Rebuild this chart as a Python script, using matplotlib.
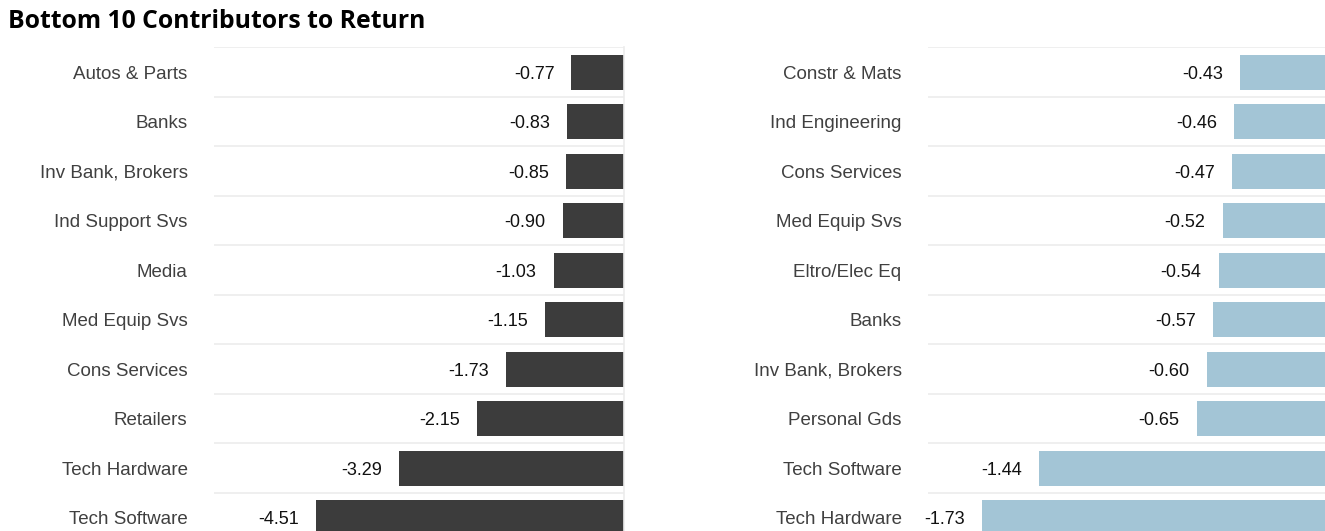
import matplotlib
matplotlib.use("Agg")
import matplotlib.pyplot as plt

left_categories = ["Autos & Parts", "Banks", "Inv Bank, Brokers", "Ind Support Svs", "Media",
                   "Med Equip Svs", "Cons Services", "Retailers", "Tech Hardware", "Tech Software"]
left_values = [-0.77, -0.83, -0.85, -0.90, -1.03, -1.15, -1.73, -2.15, -3.29, -4.51]

right_categories = ["Constr & Mats", "Ind Engineering", "Cons Services", "Med Equip Svs", "Eltro/Elec Eq",
                    "Banks", "Inv Bank, Brokers", "Personal Gds", "Tech Software", "Tech Hardware"]
right_values = [-0.43, -0.46, -0.47, -0.52, -0.54, -0.57, -0.60, -0.65, -1.44, -1.73]

title = "Bottom 10 Contributors to Return"

W, H = 1325, 531
plt.rcParams['font.family'] = ['Liberation Sans', 'DejaVu Sans']
fig = plt.figure(figsize=(W / 100, H / 100), dpi=100)

top_px, bottom_px = 47.5, 542.5
FAM = ['Liberation Sans', 'DejaVu Sans']

def make_panel(x0_px, x1_px, cats, vals, xmin, color):
    ax = fig.add_axes([x0_px / W, 1 - bottom_px / H, (x1_px - x0_px) / W, (bottom_px - top_px) / H])
    n = len(cats)
    ys = list(range(n))
    ax.barh(ys, vals, height=0.7, color=color, zorder=2)
    ax.set_xlim(xmin, 0)
    ax.set_ylim(n - 0.5, -0.5)
    for b in [i - 0.5 for i in range(n)]:
        ax.axhline(b, color="#ececec", lw=1.2, zorder=1)
    for s in ["top", "left", "bottom"]:
        ax.spines[s].set_visible(False)
    ax.spines["right"].set_color("#ececec")
    ax.spines["right"].set_linewidth(1.2)
    ax.set_xticks([])
    ax.set_yticks(ys)
    ax.set_yticklabels(cats, fontsize=13.5, color="#404040", family=FAM)
    ax.tick_params(axis="y", length=0, pad=19)
    for y, v in zip(ys, vals):
        ax.annotate(f"{v:.2f}", xy=(v, y), xytext=(-17, -2), textcoords="offset pixels",
                    ha="right", va="center", fontsize=13, color="#111111", family=FAM)
    return ax

make_panel(214, 624, left_categories, left_values, -6.0, "#3c3c3c")
make_panel(928, 1326, right_categories, right_values, -2.0, "#a3c5d6")

fig.text(8 / W, 1 - 22 / H, title, fontsize=17.8, fontweight="bold", family=["Open Sans", "DejaVu Sans"],
         ha="left", va="center", color="#000000")

fig.savefig("out.png", dpi=100)
